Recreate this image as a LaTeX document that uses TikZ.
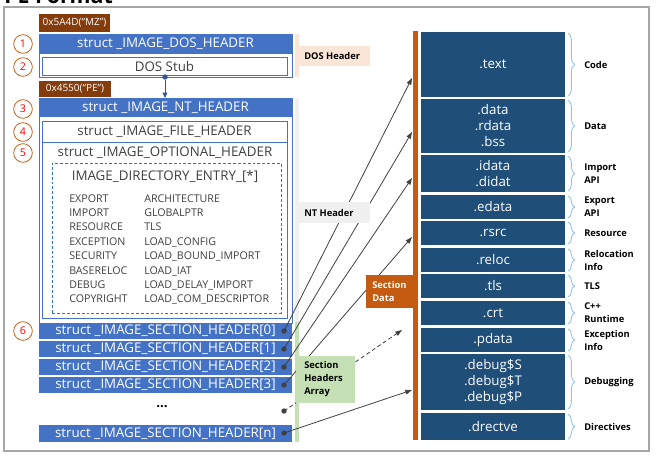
\documentclass[tikz,border=0pt]{standalone}
\usepackage{fontspec}
\setmainfont{Open Sans}
\usetikzlibrary{arrows.meta,decorations.pathreplacing}
\definecolor{hblue}{HTML}{4472C4}
\definecolor{brownc}{HTML}{843C0C}
\definecolor{circc}{HTML}{C55A11}
\definecolor{dashc}{HTML}{2E75B6}
\definecolor{peach}{HTML}{FBE5D6}
\definecolor{lgray}{HTML}{F0F0F0}
\definecolor{lgreen}{HTML}{C5E0B4}
\definecolor{orangec}{HTML}{C55A11}
\definecolor{secblue}{HTML}{1F4E79}
\definecolor{bracec}{HTML}{9DC3E6}
\definecolor{arrgray}{HTML}{404040}
\definecolor{txtgray}{HTML}{404040}
\definecolor{framec}{HTML}{A6A6A6}
\definecolor{dkblue}{HTML}{2F5597}
\newcommand\rbox[7]{\node[inner sep=0pt,outer sep=0pt,align=center,minimum width={(#4-(#2))*0.75pt},minimum height={(#5-(#3))*0.75pt},#6] (#1) at ({(#2+#4)/2},{(#3+#5)/2}) {#7};}
\begin{document}
\begin{tikzpicture}[x=0.75pt,y=-0.75pt,
  boxtxt/.style={font=\fontsize{10}{12}\selectfont},
  hdrstrip/.style={fill=hblue,text=white,boxtxt},
  wbox/.style={draw=hblue,line width=0.75pt,fill=white,text=txtgray,boxtxt},
  hexbox/.style={fill=brownc,text=white,font=\fontsize{7.5}{9}\selectfont},
  num/.style={circle,draw=circc,line width=0.6pt,text=red,inner sep=0pt,minimum size=14pt,font=\fontsize{8}{9}\selectfont},
  dir/.style={inner sep=0pt,text=txtgray,font=\fontsize{8}{10}\selectfont},
  secbox/.style={fill=secblue,text=white,font=\fontsize{10}{12}\selectfont},
  rlab/.style={inner sep=0pt,align=left,font=\fontsize{7}{9.75}\selectfont\bfseries},
  llab/.style={inner sep=0pt,align=left,font=\fontsize{7}{9.75}\selectfont\bfseries},
  brc/.style={draw=bracec,line width=0.7pt,decorate,decoration={brace,amplitude=5pt}},
  dotn/.style={circle,fill=arrgray,inner sep=0pt,minimum size=4pt},
  arr/.style={draw=arrgray,line width=0.6pt,-{Triangle[length=5pt,width=3.5pt]}}
]
\useasboundingbox (0,0) rectangle (656,458);
\node[anchor=base west,inner sep=0pt,font=\fontsize{16}{18}\selectfont\bfseries] (title) at (4,3) {PE Format};
\rbox{frame}{4}{7}{649}{451}{draw=framec,line width=0.9pt}{}

% DOS part
\rbox{mz}{39}{14}{110}{32}{hexbox}{0x5A4D(“MZ”)}
\rbox{dosframe}{39}{34}{292}{77}{draw=hblue,line width=0.75pt,fill=white}{}
\rbox{doshdr}{39}{34}{292}{54}{hdrstrip}{struct \_IMAGE\_DOS\_HEADER}
\rbox{dosstub}{42}{57}{287}{75}{wbox}{DOS Stub}
\rbox{pe}{39}{81}{111}{97}{hexbox}{0x4550(“PE”)}

% NT part
\rbox{ntframe}{39}{98}{292}{323}{draw=hblue,line width=0.75pt,fill=white}{}
\rbox{nthdr}{39}{98}{292}{117}{hdrstrip}{struct \_IMAGE\_NT\_HEADER}
\rbox{filehdr}{42}{121}{287}{142}{wbox}{struct \_IMAGE\_FILE\_HEADER}
\rbox{opthdr}{42}{142}{287}{318}{draw=hblue,line width=0.75pt}{}
\node[boxtxt,text=txtgray,inner sep=0pt] (opttitle) at (165,153) {struct \_IMAGE\_OPTIONAL\_HEADER};
\rbox{dirbox}{52}{163}{281}{313}{draw=dashc,line width=0.6pt,dash pattern=on 2.2pt off 1.5pt}{}
\node[boxtxt,text=txtgray,inner sep=0pt] (dirtitle) at (165,176) {IMAGE\_DIRECTORY\_ENTRY\_[*]};
\foreach \a/\b [count=\i] in {EXPORT/ARCHITECTURE,IMPORT/GLOBALPTR,RESOURCE/TLS,EXCEPTION/LOAD\_CONFIG,SECURITY/LOAD\_BOUND\_IMPORT,BASERELOC/LOAD\_IAT,DEBUG/LOAD\_DELAY\_IMPORT,COPYRIGHT/LOAD\_COM\_DESCRIPTOR}{
  \node[dir,anchor=base west] (dl\i) at (69,{202+14.4*(\i-1)}) {\a};
  \node[dir,anchor=base west] (dr\i) at (144,{202+14.4*(\i-1)}) {\b};
}

% section headers
\rbox{sh0}{39}{323}{292}{339}{hdrstrip}{struct \_IMAGE\_SECTION\_HEADER[0]}
\rbox{sh1}{39}{341}{292}{357}{hdrstrip}{struct \_IMAGE\_SECTION\_HEADER[1]}
\rbox{sh2}{39}{359}{292}{375}{hdrstrip}{struct \_IMAGE\_SECTION\_HEADER[2]}
\rbox{sh3}{39}{377}{292}{393}{hdrstrip}{struct \_IMAGE\_SECTION\_HEADER[3]}
\node[inner sep=0pt,font=\fontsize{10}{12}\selectfont\bfseries] (shdots) at (162,407) {...};
\rbox{shn}{39}{425}{292}{442}{hdrstrip}{struct \_IMAGE\_SECTION\_HEADER[n]}

% numbers
\node[num] (n1) at (23,44) {1};
\node[num] (n2) at (23,67) {2};
\node[num] (n3) at (23,109) {3};
\node[num] (n4) at (23,132) {4};
\node[num] (n5) at (23,153) {5};
\node[num] (n6) at (23,331) {6};

% DOS -> NT arrow
\node[dotn,fill=dkblue] (sd) at (165,77) {};
\draw[draw=dkblue,line width=0.7pt,-{Triangle[length=4pt,width=3.5pt]}] (sd) -- (nthdr.north -| sd);

% label bars
\rbox{dosbar}{295}{34}{299}{77}{fill=peach}{}
\rbox{ntbar}{295}{98}{299}{322}{fill=lgray}{}
\rbox{shbar}{295}{322}{299}{442}{fill=lgreen}{}
\rbox{secbar}{413}{31}{418}{440}{fill=orangec}{}

% connectors
\node[dotn] (d0) at (284,331) {};
\node[dotn] (d1) at (284,349) {};
\node[dotn] (d2) at (284,367) {};
\node[dotn] (d3) at (284,385) {};
\node[dotn] (d4) at (284,411) {};
\node[dotn] (d5) at (284,433) {};
\coordinate (t0) at (412,78);
\coordinate (t1) at (412,132);
\coordinate (t2) at (412,178);
\coordinate (t3) at (412,237);
\coordinate (t4) at (402,330);
\coordinate (t5) at (412,390);
\draw[arr] (d0.center) -- (t0);
\draw[arr] (d1.center) -- (t1);
\draw[arr] (d2.center) -- (t2);
\draw[arr] (d3.center) -- (t3);
\draw[arr,dash pattern=on 3pt off 2pt] (d4.center) -- (t4);
\draw[arr] (d5.center) -- (t5);

% labels
\rbox{doslab}{296}{46}{370}{66}{fill=peach}{}
\node[llab,anchor=west] (doslabt) at (304,56) {DOS Header};
\rbox{ntlab}{296}{202}{370}{223}{fill=lgray}{}
\node[llab,anchor=west] (ntlabt) at (304,212.5) {NT Header};
\rbox{shlab}{296}{356}{355}{403}{fill=lgreen}{}
\node[llab,anchor=west] (shlabt) at (304,379.5) {Section\\Headers\\Array};
\rbox{sdlab}{366}{275}{413}{308}{fill=orangec}{}
\node[llab,anchor=west,text=white] (sdlabt) at (372,291.5) {Section\\Data};

% right sections
\foreach \n/\ya/\yb/\t/\l in {
  stext/32/97/{.text}/{Code},
  sdata/99/153/{.data\\.rdata\\.bss}/{Data},
  sidata/155/192/{.idata\\.didat}/{Import\\API},
  sedata/195/219/{.edata}/{Export\\API},
  srsrc/221/245/{.rsrc}/{Resource},
  sreloc/248/272/{.reloc}/{Relocation\\Info},
  stls/274/298/{.tls}/{TLS},
  scrt/301/325/{.crt}/{C++\\Runtime},
  spdata/328/352/{.pdata}/{Exception\\Info},
  sdebug/354/410/{.debug\$S\\.debug\$T\\.debug\$P}/{Debugging},
  sdrect/413/440/{.drectve}/{Directives}}{
  \rbox{\n}{421}{\ya}{565}{\yb}{secbox}{\t}
  \draw[brc] (568,\ya+1) -- (568,\yb-1);
  \node[rlab,anchor=west] (l\n) at (584,{(\ya+\yb)/2}) {\l};
}
\end{tikzpicture}
\end{document}
